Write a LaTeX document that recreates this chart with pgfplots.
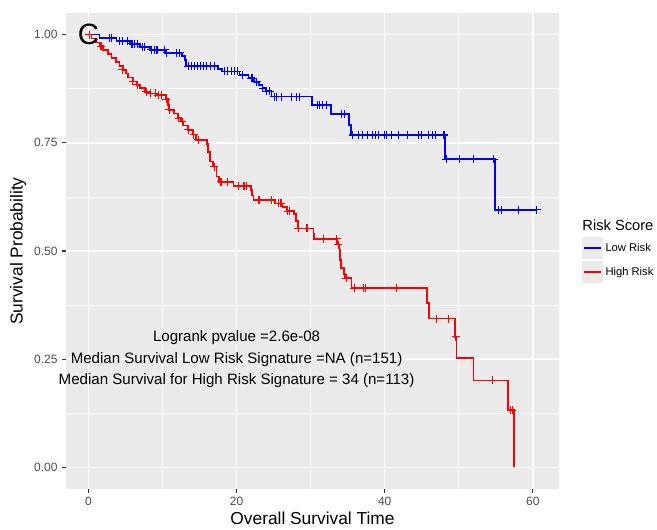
\documentclass[border=0pt]{standalone}
\usepackage{fontspec}
\setmainfont{Liberation Sans}
\setsansfont{Liberation Sans}
\usepackage{pgfplots}
\pgfplotsset{compat=1.18}
\definecolor{panel}{HTML}{EBEBEB}
\definecolor{ticktxt}{HTML}{4D4D4D}
\definecolor{tickcol}{HTML}{333333}

\begin{document}
\begin{tikzpicture}
\path[use as bounding box] (0,0) rectangle (492.75pt,396.75pt);
\begin{axis}[
  at={(49.5pt,30pt)}, anchor=south west,
  scale only axis, width=369.75pt, height=357pt,
  xmin=-3.025, xmax=63.525, ymin=-0.05, ymax=1.05,
  axis background/.style={fill=panel},
  axis line style={draw=none},
  xtick={0,20,40,60}, minor xtick={10,30,50},
  xticklabels={0,20,40,60},
  ytick={0,0.25,0.5,0.75,1}, minor ytick={0.125,0.375,0.625,0.875},
  yticklabels={0.00,0.25,0.50,0.75,1.00},
  grid=both,
  major grid style={white, line width=1.1pt},
  minor grid style={white, line width=0.55pt},
  tick align=outside, xtick pos=left, ytick pos=left,
  major tick length=2.8pt, minor tick length=0pt,
  tick style={draw=tickcol, line width=0.8pt},
  tick label style={font=\fontsize{9}{10}\selectfont, text=ticktxt},
  xlabel={Overall Survival Time}, ylabel={Survival Probability},
  label style={font=\fontsize{13}{15}\selectfont},
  xlabel style={at={(axis description cs:0.5,-0.061)}, anchor=center},
  ylabel style={at={(axis description cs:-0.097,0.5)}, anchor=center},
  clip=false,
  legend style={at={(1.047,0.529)}, anchor=north west, draw=none, fill=none,
    inner sep=0pt, font=\fontsize{8.4}{10}\selectfont, row sep=1.5pt},
  legend cell align=left,
  legend image code/.code={
    \fill[panel] (0pt,-7.5pt) rectangle (14pt,7.5pt);
    \draw[#1] (0.8pt,0pt) -- (13.2pt,0pt);},
]
% Low risk curve
\addplot[blue, line width=1.3pt, const plot, mark=none] coordinates {
(0,1.000) (1.5,0.993) (3.8,0.986) (5.6,0.979) (7.0,0.972) (8.3,0.965)
(10.5,0.958) (12.6,0.951) (13.0,0.941) (13.2,0.927) (17.5,0.921) (18.0,0.915)
(20.4,0.906) (21.6,0.899) (22.4,0.891) (23.0,0.884) (23.5,0.876) (24.0,0.869)
(24.7,0.857) (30.2,0.838) (32.7,0.817) (35.2,0.792) (35.4,0.768) (48.1,0.712)
(54.9,0.595) (60.5,0.595)
};
\addlegendentry{Low Risk}
% High risk curve
\addplot[red, line width=1.3pt, const plot, mark=none] coordinates {
(0,1.000) (0.4,0.991) (1.0,0.982) (1.5,0.973) (2.0,0.964) (2.6,0.955)
(3.1,0.946) (3.7,0.937) (4.2,0.928) (4.7,0.919) (5.1,0.910) (5.3,0.901)
(6.0,0.892) (6.5,0.884) (7.0,0.876) (7.6,0.868) (8.3,0.864) (9.2,0.860)
(10.5,0.851) (10.7,0.838) (10.9,0.826) (11.6,0.818) (12.1,0.807) (12.5,0.799)
(12.8,0.790) (13.4,0.780) (14.1,0.769) (14.5,0.757) (16.0,0.748) (16.1,0.728)
(16.4,0.707) (16.8,0.695) (17.3,0.672) (17.6,0.660) (19.6,0.650) (21.9,0.641)
(22.1,0.628) (22.3,0.618) (25.2,0.610) (26.2,0.602) (26.8,0.592) (27.8,0.586)
(28.0,0.570) (28.3,0.552) (30.4,0.540) (30.5,0.528) (33.6,0.515) (33.9,0.502)
(34.0,0.480) (34.1,0.460) (34.5,0.446) (34.6,0.437) (35.5,0.414) (45.7,0.379)
(46.0,0.344) (49.5,0.302) (49.7,0.252) (52.0,0.201) (56.6,0.132) (57.4,0.000)
};
\addlegendentry{High Risk}
% censoring marks
\addplot[blue, only marks, mark=+, mark size=3pt, mark options={line width=0.8pt}, forget plot] coordinates {
(0.2,1.000) (2.8,0.993) (3.1,0.993) (4.2,0.986) (4.6,0.986) (5.3,0.986)
(5.8,0.979) (6.0,0.979) (6.2,0.979) (6.6,0.979) (7.3,0.972) (7.6,0.972)
(8.5,0.965) (8.9,0.965) (9.2,0.965) (9.3,0.965) (10.3,0.965) (10.6,0.958)
(11.9,0.958) (12.3,0.958)
(13.5,0.927) (13.9,0.927) (14.3,0.927) (14.7,0.927) (15.1,0.927) (15.5,0.927)
(16.0,0.927) (16.5,0.927) (17.0,0.927)
(18.4,0.915) (18.8,0.915) (19.3,0.915) (19.7,0.915) (20.1,0.915)
(20.8,0.906) (22.0,0.899) (22.2,0.899) (22.7,0.891) (23.5,0.876) (24.0,0.869) (24.5,0.869)
(25.1,0.857) (25.4,0.857) (26.1,0.857) (27.4,0.857) (28.1,0.857) (28.5,0.857)
(30.9,0.838) (31.2,0.838) (31.6,0.838) (32.2,0.838)
(34.2,0.817) (34.6,0.817)
(35.7,0.768) (36.4,0.768) (37.0,0.768) (37.7,0.768) (38.4,0.768) (38.8,0.768)
(39.1,0.768) (40.0,0.768) (40.3,0.768) (40.9,0.768) (41.8,0.768) (43.1,0.768)
(44.6,0.768) (44.9,0.768) (45.9,0.768) (46.4,0.768) (46.9,0.768) (48.0,0.768)
(48.3,0.712) (50.1,0.712) (52.0,0.712) (54.7,0.712)
(55.4,0.595) (55.7,0.595) (58.0,0.595) (60.5,0.595)
};
\addplot[red, only marks, mark=+, mark size=3pt, mark options={line width=0.8pt}, forget plot] coordinates {
(0.1,1.000) (1.7,0.973) (4.6,0.919) (6.0,0.892) (6.6,0.884) (7.8,0.868)
(8.4,0.864) (9.0,0.864) (9.4,0.860) (9.9,0.860) (10.5,0.851) (10.9,0.826)
(12.2,0.807) (12.7,0.799) (13.5,0.780) (14.2,0.769) (14.8,0.757) (17.0,0.695)
(17.9,0.660) (18.8,0.660) (20.2,0.650) (20.9,0.650) (21.1,0.650) (21.3,0.650)
(22.9,0.618) (23.1,0.618) (24.7,0.618) (25.6,0.610) (26.0,0.610) (26.9,0.592)
(27.2,0.592) (28.3,0.552) (29.4,0.552) (29.6,0.552) (31.7,0.528) (33.5,0.528)
(33.7,0.515) (34.8,0.437) (35.9,0.414) (37.1,0.414) (37.4,0.414) (41.6,0.414)
(47.0,0.344) (48.6,0.344) (49.6,0.302) (54.6,0.201) (57.0,0.132) (57.2,0.132)
};
\node[font=\fontsize{11.3}{13}\selectfont] at (axis cs:20,0.30) {Logrank pvalue =2.6e-08};
\node[font=\fontsize{11.3}{13}\selectfont] at (axis cs:20,0.25) {Median Survival Low Risk Signature =NA (n=151)};
\node[font=\fontsize{11.3}{13}\selectfont] at (axis cs:20,0.20) {Median Survival for High Risk Signature = 34 (n=113)};
\node[font=\fontsize{22}{24}\selectfont] at (axis cs:0,1.0) {C};
\node[anchor=west, inner sep=0pt, font=\fontsize{11}{12}\selectfont] at (axis description cs:1.047,0.555) {Risk Score};
\end{axis}
\end{tikzpicture}
\end{document}
